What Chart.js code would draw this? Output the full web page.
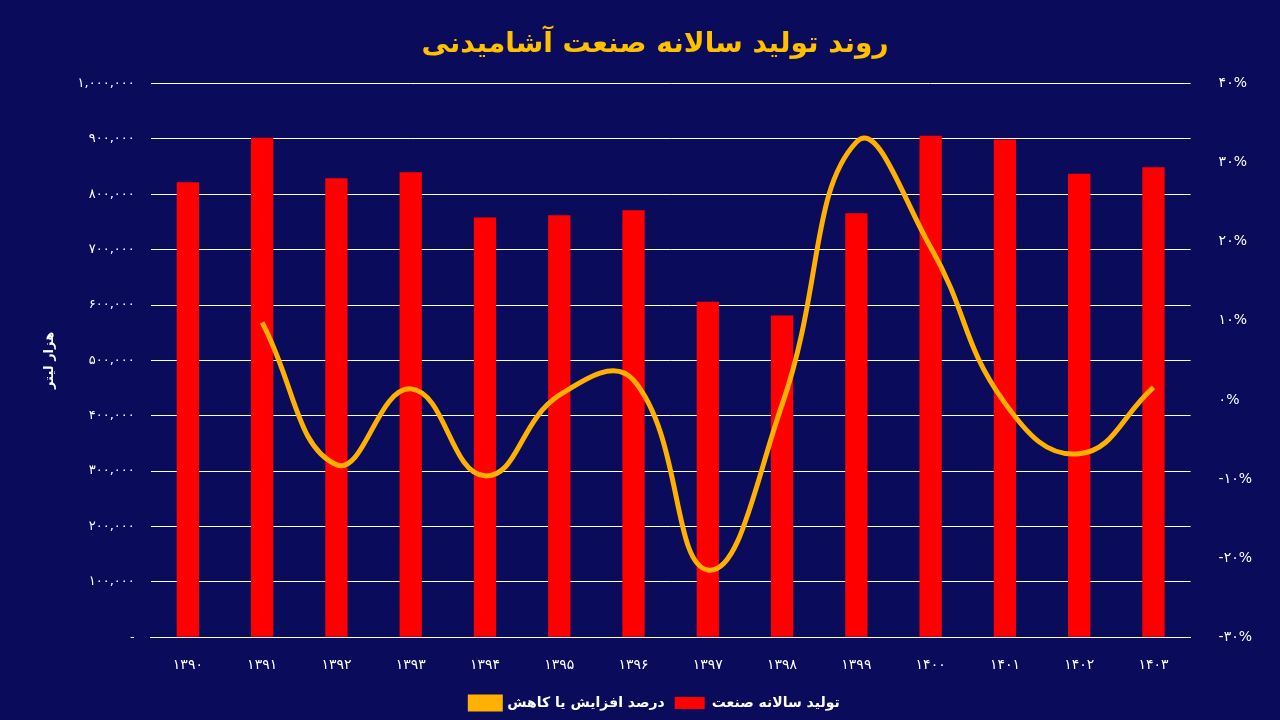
<!DOCTYPE html>
<html>
<head>
<meta charset="utf-8">
<script src="https://cdn.jsdelivr.net/npm/chart.js@4"></script>
<style>
  body { margin: 0; background: #0b0b5c; }
  #wrap { width: 1280px; height: 720px; }
</style>
</head>
<body>
<div id="wrap"><canvas id="chart" width="1280" height="720"></canvas></div>
<script>
// سال‌ها و مقادیر
const years = ['1390', '1391', '1392', '1393', '1394', '1395', '1396', '1397', '1398', '1399', '1400', '1401', '1402', '1403'];
const production = [822000, 902000, 829000, 840000, 758000, 762000, 771000, 606000, 581000, 766000, 906000, 899000, 837000, 849000];
const changePct = [null, 9.8, -8.2, 1.4, -9.6, 0.6, 2.5, -21.5, -0.6, 32.6, 19.3, -0.4, -6.8, 1.6];

const faDigits = s => String(s).replace(/[0-9]/g, d => '۰۱۲۳۴۵۶۷۸۹'[d]);
const font = "'DejaVu Sans', sans-serif";

new Chart(document.getElementById('chart'), {
    data: {
        labels: years.map(faDigits),
        datasets: [{
            type: 'line',
            label: 'درصد افزایش یا کاهش',
            data: changePct,
            yAxisID: 'y1',
            borderColor: '#ffb000',
            backgroundColor: '#ffb000',
            borderWidth: 5,
            pointRadius: 0,
            tension: 0.45
        }, {
            type: 'bar',
            label: 'تولید سالانه صنعت',
            data: production,
            yAxisID: 'y',
            backgroundColor: '#ff0000',
            barPercentage: 0.3,
            categoryPercentage: 1
        }]
    },
    options: {
        responsive: false,
        animation: false,
        layout: { padding: { left: 38, right: 8, top: 28, bottom: 0 } },
        plugins: {
            title: {
                display: true,
                text: 'روند تولید سالانه صنعت آشامیدنی',
                color: '#ffc000',
                font: { family: font, size: 28, weight: 'bold' },
                padding: { bottom: 22 }
            },
            legend: {
                position: 'bottom',
                labels: {
                    color: '#ffffff',
                    font: { family: font, size: 14, weight: 'bold' },
                    boxWidth: 30,
                    boxHeight: 12,
                    padding: 10
                }
            }
        },
        scales: {
            x: {
                grid: { display: false },
                border: { color: '#ffffff' },
                ticks: { color: '#ffffff', font: { family: font, size: 14 }, padding: 12 }
            },
            y: {
                min: 0,
                max: 1000000,
                ticks: {
                    stepSize: 100000,
                    color: '#ffffff',
                    font: { family: font, size: 13 },
                    padding: 16,
                    callback: v => v === 0 ? '-' : faDigits(v.toLocaleString('en-US'))
                },
                grid: { color: '#ffffff', lineWidth: 1, drawTicks: false },
                border: { display: false },
                title: { display: true, text: 'هزار لیتر', color: '#ffffff', font: { family: font, size: 13, weight: 'bold' } }
            },
            y1: {
                position: 'right',
                min: -30,
                max: 40,
                ticks: {
                    stepSize: 10,
                    color: '#ffffff',
                    font: { family: font, size: 14 },
                    padding: 20,
                    callback: v => faDigits(v) + '%'
                },
                grid: { display: false },
                border: { display: false }
            }
        }
    }
});
</script>
</body>
</html>
